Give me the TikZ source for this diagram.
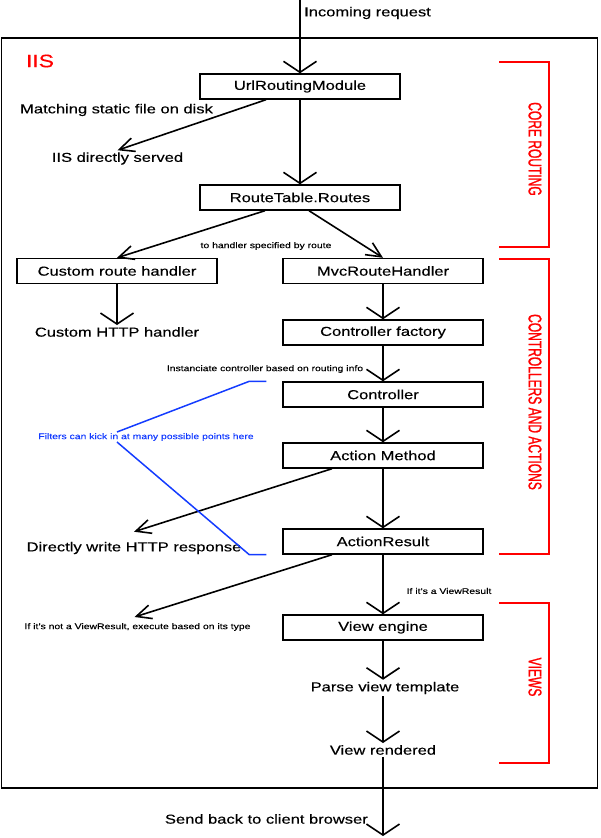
\documentclass[tikz,border=0pt]{standalone}
\usepackage{fontspec}
\setmainfont[FakeStretch=1.27,FakeBold=0.3]{Liberation Sans}
\newfontfamily\sidefont[FakeStretch=0.65,FakeBold=1.2]{Liberation Sans}
\usetikzlibrary{arrows.meta}
\definecolor{iisred}{RGB}{255,0,0}
\definecolor{filterblue}{RGB}{20,60,255}

\begin{document}
\begin{tikzpicture}[x=1pt,y=-1pt,
  box/.style={draw,line width=1.4pt,minimum width=200pt,minimum height=25pt,inner sep=0pt,font=\fontsize{13}{15}\selectfont},
  lbl/.style={inner sep=2pt,font=\fontsize{13}{15}\selectfont},
  note/.style={inner sep=1pt,font=\fontsize{8.2}{10}\selectfont},
  side/.style={iisred,rotate=-90,inner sep=0pt,font=\sidefont\fontsize{18.5}{20}\selectfont},
  arr/.style={-{Straight Barb[length=11pt,width=33pt]},line width=1.6pt},
  slant/.style={-{Straight Barb[length=15pt,width=14pt]},line width=1.6pt},
  brace/.style={iisred,line width=1.2pt},
  filt/.style={filterblue,line width=1.5pt}
]
\useasboundingbox (0,0) rectangle (600,838);

% IIS frame
\draw[line width=1.5pt] (1.5,38) rectangle (597.5,788);
\node[text=iisred,inner sep=0pt,font=\fontsize{18}{20}\selectfont] (iis) at (40,61) {IIS};

% core routing
\coordinate (entry) at (300,0);
\node[lbl,anchor=west] (incoming) at (302,13) {Incoming request};
\node[box] (url) at (300,86.5) {UrlRoutingModule};
\node[lbl] (static) at (116.5,110) {Matching static file on disk};
\node[lbl] (served) at (117.5,158.5) {IIS directly served};
\node[box] (rtab) at (300,197.5) {RouteTable.Routes};
\node[note] (spec) at (266,246) {to handler specified by route};

% controllers and actions
\node[box] (custom) at (117,271) {Custom route handler};
\node[lbl] (customhttp) at (117,332) {Custom HTTP handler};
\node[box] (mvc) at (383,271) {MvcRouteHandler};
\node[box] (cfac) at (383,332.5) {Controller factory};
\node[note] (inst) at (265,369) {Instanciate controller based on routing info};
\node[box] (ctrl) at (383,394.5) {Controller};
\node[note,text=filterblue] (filters) at (146,437) {Filters can kick in at many possible points here};
\node[box] (amethod) at (383,455.5) {Action Method};
\node[box] (aresult) at (383,541.5) {ActionResult};
\node[lbl] (direct) at (134,548) {Directly write HTTP response};

% views
\node[note] (isview) at (449,591) {If it's a ViewResult};
\node[note] (notview) at (137.5,627) {If it's not a ViewResult, execute based on its type};
\node[box] (vengine) at (383,627.5) {View engine};
\node[lbl] (parse) at (385,688) {Parse view template};
\node[lbl] (rendered) at (383,750) {View rendered};
\node[lbl,anchor=east] (sendback) at (370,819) {Send back to client browser};
\coordinate (exit) at (383,836);

% side brackets
\draw[brace] (499,62) -| (549,247) -- (499,247);
\draw[brace] (499,259) -| (549,554) -- (499,554);
\draw[brace] (499,603) -| (549,763) -- (499,763);
\node[side] (coretitle) at (535,149) {CORE ROUTING};
\node[side] (ctrltitle) at (535,402) {CONTROLLERS AND ACTIONS};
\node[side] (viewtitle) at (535,677) {VIEWS};

% flow
\draw[arr] (entry) -- (url.north);
\draw[slant] ([xshift=-34pt]url.south) -- (served.north);
\draw[arr] (url) -- (rtab);
\draw[slant] ([xshift=-35pt]rtab.south) -- (custom.north);
\draw[slant] ([xshift=9pt]rtab.south) -- (mvc.north);
\draw[arr] (custom) -- (customhttp);
\draw[arr] (mvc) -- (cfac);
\draw[arr] (cfac) -- (ctrl);
\draw[arr] (ctrl) -- (amethod);
\draw[arr] (amethod) -- (aresult);
\draw[slant] ([xshift=-51pt]amethod.south) -- ([yshift=8pt]direct.north);
\draw[arr] (aresult) -- (vengine);
\draw[slant] ([xshift=-51pt]aresult.south) -- ([xshift=-3pt,yshift=5pt]notview.north);
\draw[arr] (vengine) -- (vengine |- parse.north);
\draw[arr] (vengine |- parse.south) -- (rendered);
\draw[arr] (rendered) -- (exit);

% filters
\draw[filt] ([xshift=-16pt]ctrl.north west) -- ([xshift=-33pt]ctrl.north west) -- ([xshift=-29pt]filters.north);
\draw[filt] ([xshift=-29pt]filters.south) -- ([xshift=-33pt]aresult.south west) -- ([xshift=-16pt]aresult.south west);
\end{tikzpicture}
\end{document}
